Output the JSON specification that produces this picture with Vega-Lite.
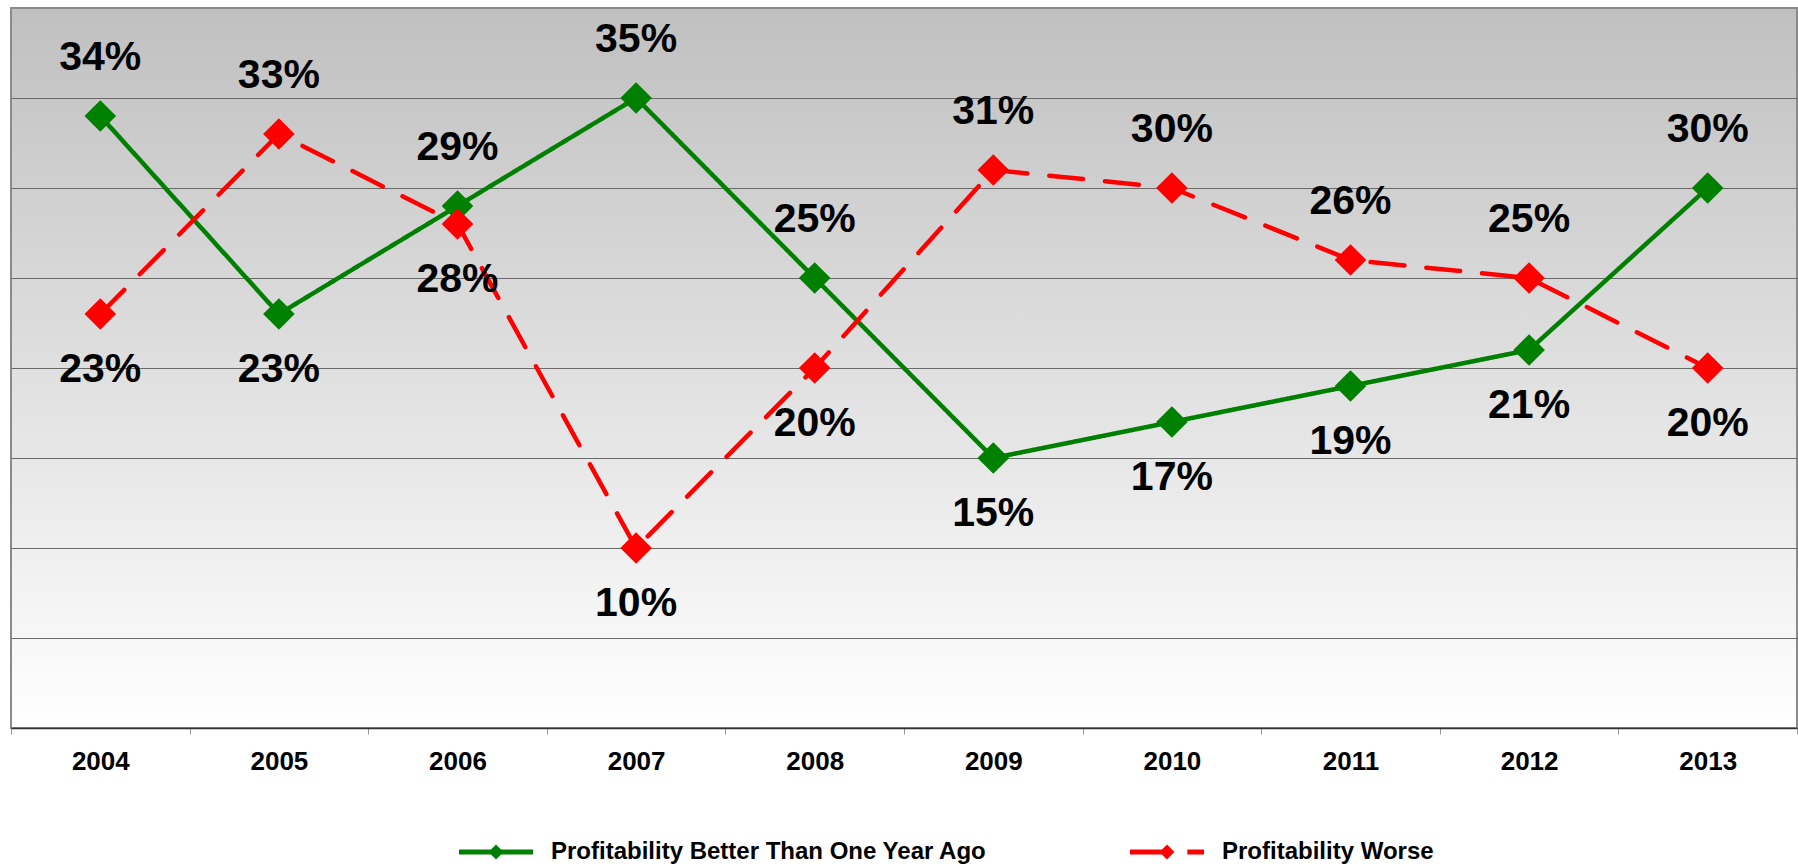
{
  "$schema": "https://vega.github.io/schema/vega-lite/v6.json",
  "width": 1786,
  "height": 720,
  "autosize": {"type": "none"},
  "padding": {"left": 11, "top": 8, "right": 1, "bottom": 139},
  "background": "white",
  "config": {
    "font": "Liberation Sans",
    "view": {
      "stroke": "#8a8a8a",
      "strokeWidth": 2,
      "fill": {"gradient": "linear", "x1": 0, "y1": 0, "x2": 0, "y2": 1,
        "stops": [{"offset": 0, "color": "#c0c0c0"}, {"offset": 1, "color": "#ffffff"}]}
    },
    "legend": {
      "title": null, "orient": "none", "legendX": 448, "legendY": 807,
      "direction": "horizontal", "symbolSize": 5476, "labelFontSize": 24,
      "labelFontWeight": "bold", "labelColor": "black", "labelOffset": 18,
      "columnPadding": 142, "labelLimit": 1000, "padding": 0
    }
  },
  "data": {
    "values": [
      {"year": "2004", "series": "Profitability Better Than One Year Ago", "value": 0.34},
      {"year": "2005", "series": "Profitability Better Than One Year Ago", "value": 0.23},
      {"year": "2006", "series": "Profitability Better Than One Year Ago", "value": 0.29},
      {"year": "2007", "series": "Profitability Better Than One Year Ago", "value": 0.35},
      {"year": "2008", "series": "Profitability Better Than One Year Ago", "value": 0.25},
      {"year": "2009", "series": "Profitability Better Than One Year Ago", "value": 0.15},
      {"year": "2010", "series": "Profitability Better Than One Year Ago", "value": 0.17},
      {"year": "2011", "series": "Profitability Better Than One Year Ago", "value": 0.19},
      {"year": "2012", "series": "Profitability Better Than One Year Ago", "value": 0.21},
      {"year": "2013", "series": "Profitability Better Than One Year Ago", "value": 0.30},
      {"year": "2004", "series": "Profitability Worse", "value": 0.23},
      {"year": "2005", "series": "Profitability Worse", "value": 0.33},
      {"year": "2006", "series": "Profitability Worse", "value": 0.28},
      {"year": "2007", "series": "Profitability Worse", "value": 0.10},
      {"year": "2008", "series": "Profitability Worse", "value": 0.20},
      {"year": "2009", "series": "Profitability Worse", "value": 0.31},
      {"year": "2010", "series": "Profitability Worse", "value": 0.30},
      {"year": "2011", "series": "Profitability Worse", "value": 0.26},
      {"year": "2012", "series": "Profitability Worse", "value": 0.25},
      {"year": "2013", "series": "Profitability Worse", "value": 0.20}
    ]
  },
  "encoding": {
    "x": {
      "field": "year", "type": "ordinal",
      "scale": {"type": "band", "paddingInner": 0, "paddingOuter": 0},
      "axis": {
        "title": null, "labelAngle": 0, "labelFontSize": 26, "labelFontWeight": "bold",
        "labelColor": "black", "tickBand": "extent", "tickSize": 6, "tickColor": "#999999",
        "domainColor": "#333333", "domainWidth": 1.5, "labelPadding": 14, "grid": false
      }
    },
    "y": {
      "field": "value", "type": "quantitative",
      "scale": {"domain": [0, 0.4], "nice": false, "zero": true},
      "axis": {
        "title": null, "labels": false, "ticks": false, "domain": false, "grid": true,
        "gridColor": "#6a6a6a", "gridWidth": 1,
        "values": [0.05, 0.1, 0.15, 0.2, 0.25, 0.3, 0.35]
      }
    }
  },
  "layer": [
    {
      "mark": {"type": "line", "strokeWidth": 4.5, "strokeCap": "round"},
      "encoding": {
        "stroke": {"field": "series", "type": "nominal",
          "scale": {"domain": ["Profitability Better Than One Year Ago", "Profitability Worse"], "range": ["#008000", "#ff0000"]},
          "legend": {
            "encode": {
              "symbols": {
                "update": {
                  "shape": {"signal": "datum.value === 'Profitability Worse' ? 'M-1,-0.065L-0.135,-0.065L0,-0.2L0.2,0L0,0.2L-0.135,0.065L-1,0.065ZM0.55,-0.065L1,-0.065L1,0.065L0.55,0.065Z' : 'M-1,-0.065L-0.135,-0.065L0,-0.2L0.135,-0.065L1,-0.065L1,0.065L0.135,0.065L0,0.2L-0.135,0.065L-1,0.065Z'"},
                  "fill": {"signal": "datum.value === 'Profitability Worse' ? '#ff0000' : '#008000'"},
                  "stroke": {"value": "transparent"},
                  "strokeWidth": {"value": 0},
                  "strokeDash": {"value": [1, 0]},
                  "opacity": {"value": 1}
                }
              }
            }
          }},
        "strokeDash": {"field": "series", "type": "nominal",
          "scale": {"domain": ["Profitability Better Than One Year Ago", "Profitability Worse"], "range": [[1, 0], [34, 22]]}}
      }
    },
    {
      "mark": {"type": "point", "shape": "diamond", "filled": true, "size": 1000, "opacity": 1, "strokeWidth": 0},
      "encoding": {
        "fill": {"field": "series", "type": "nominal",
          "scale": {"domain": ["Profitability Better Than One Year Ago", "Profitability Worse"], "range": ["#008000", "#ff0000"]}}
      }
    },
    {
      "transform": [
        {"joinaggregate": [{"op": "max", "field": "value", "as": "mx"}], "groupby": ["year"]},
        {"filter": "datum.value >= datum.mx"}
      ],
      "mark": {"type": "text", "dy": -58, "fontSize": 41, "fontWeight": "bold", "color": "black", "baseline": "middle"},
      "encoding": {"text": {"field": "value", "type": "quantitative", "format": ".0%"}}
    },
    {
      "transform": [
        {"joinaggregate": [{"op": "max", "field": "value", "as": "mx"}], "groupby": ["year"]},
        {"filter": "datum.value < datum.mx"}
      ],
      "mark": {"type": "text", "dy": 56, "fontSize": 41, "fontWeight": "bold", "color": "black", "baseline": "middle"},
      "encoding": {"text": {"field": "value", "type": "quantitative", "format": ".0%"}}
    }
  ]
}
